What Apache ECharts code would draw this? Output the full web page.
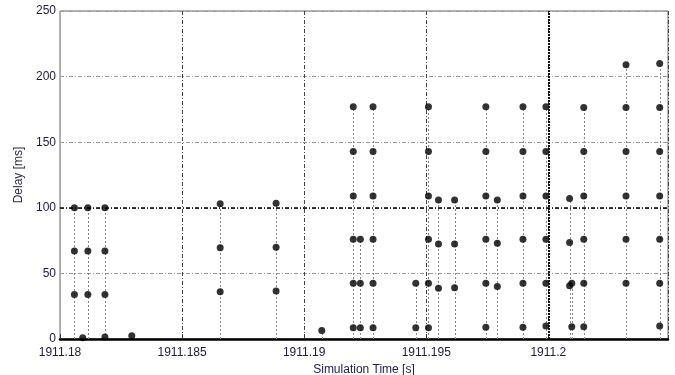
<!DOCTYPE html>
<html>
<head>
<meta charset="utf-8">
<script src="https://cdn.jsdelivr.net/npm/echarts@6/dist/echarts.min.js"></script>
<style>
html,body{margin:0;padding:0;background:#fff;}
#main{width:675px;height:375px;}
</style>
</head>
<body>
<div id="main"></div>
<script>
// simulation time of each packet burst [s]
var burstTimes = [
	1911.18059, 1911.18093, 1911.18114, 1911.18184, 1911.18294,
	1911.18656, 1911.18885, 1911.19072,
	1911.19201, 1911.19230, 1911.19282, 1911.19457, 1911.19509, 1911.19550, 1911.19616,
	1911.19744, 1911.19791, 1911.19896, 1911.19990,
	1911.20087, 1911.20096, 1911.20145, 1911.20318, 1911.20456
];
// delays measured in each burst [ms]
var burstDelays = [
	[100, 67, 34],
	[1],
	[100, 67, 34],
	[100, 67, 34, 1.5],
	[2.5],
	[103, 69.5, 36],
	[103.5, 70, 36.5],
	[6.5],
	[177, 143, 109, 76, 42.5, 8.6],
	[76, 42.5, 8.6],
	[177, 143, 109, 76, 42.5, 8.6],
	[42.5, 8.6],
	[177, 143, 109, 76, 42.5, 8.6],
	[106, 72.5, 38.6],
	[106, 72.5, 39],
	[177, 143, 109, 76, 42.5, 9],
	[106, 73, 40],
	[177, 143, 109, 76, 42.5, 9],
	[177, 143, 109, 76, 42.5, 10],
	[107, 73.5, 40.5],
	[42.5, 9.4],
	[176.5, 143, 109, 76, 42.5, 9.4],
	[209, 176.5, 143, 109, 76, 42.5],
	[210, 176.5, 143, 109, 76, 42.5, 10]
];
var xMin = 1911.18, xMax = 1911.2049, xStep = 0.005;
var yMin = 0, yMax = 250, yStep = 50;

var points = [];
var stems = [];
for (var i = 0; i < burstTimes.length; ++i) {
	var peak = 0;
	for (var j = 0; j < burstDelays[i].length; ++j) {
		points.push([burstTimes[i], burstDelays[i][j]]);
		if (burstDelays[i][j] > peak) peak = burstDelays[i][j];
	}
	// drop line from the axis up to the highest delay of the burst
	if (peak > 5) stems.push([burstTimes[i], peak]);
}

var labelColor = '#1c1c3c';
var myChart = echarts.init(document.getElementById('main'));
var option = {
	animation: false,
	grid: {
		left: 60, right: 7, top: 11, bottom: 36,
		outerBoundsMode: 'none',
		show: true, borderColor: '#6a6a6a', borderWidth: 1
	},
	xAxis: {
		type: 'value',
		min: xMin, max: xMax, interval: xStep,
		name: 'Simulation Time [s]',
		nameLocation: 'middle',
		nameGap: 23,
		nameTextStyle: {color: '#1c1c50', fontFamily: 'Liberation Sans', fontSize: 12},
		axisLine: {lineStyle: {color: '#000', width: 2.5}},
		axisTick: {inside: true, length: 5, lineStyle: {color: '#333'}},
		axisLabel: {
			color: labelColor, fontFamily: 'Liberation Sans', fontSize: 12, margin: 8,
			showMaxLabel: false,
			formatter: function (v) { return String(+v.toFixed(3)); }
		},
		splitLine: {lineStyle: {color: '#444', type: [4, 2, 1, 2], width: 1}}
	},
	yAxis: {
		type: 'value',
		min: yMin, max: yMax, interval: yStep,
		name: 'Delay [ms]',
		nameLocation: 'middle',
		nameGap: 33,
		nameTextStyle: {color: '#2b2b4b', fontFamily: 'Liberation Sans', fontSize: 12},
		axisLine: {lineStyle: {color: '#aaa', width: 1}},
		axisTick: {show: false},
		axisLabel: {color: labelColor, fontFamily: 'Liberation Sans', fontSize: 12, margin: 4},
		splitLine: {lineStyle: {color: '#999', type: [4, 2, 1, 2], width: 1}}
	},
	series: [
		{
			type: 'custom',
			z: 2,
			data: stems,
			renderItem: function (params, api) {
				var a = api.coord([api.value(0), 0]);
				var b = api.coord([api.value(0), api.value(1)]);
				var x = Math.round(a[0]) + 0.5;
				return {
					type: 'line',
					shape: {x1: x, y1: a[1], x2: x, y2: b[1]},
					style: {stroke: '#888', lineWidth: 1, lineDash: [2, 2]}
				};
			},
			markLine: {
				silent: true,
				symbol: 'none',
				label: {show: false},
				data: [
					{yAxis: 100, lineStyle: {color: '#000', width: 1.5, type: [4, 2, 1, 2]}},
					{xAxis: 1911.2, lineStyle: {color: '#111', width: 2, type: [2, 1]}}
				]
			}
		},
		{
			type: 'scatter',
			symbol: 'circle',
			symbolSize: 7,
			z: 3,
			itemStyle: {color: '#000'},
			data: points
		}
	]
};
myChart.setOption(option);
</script>
</body>
</html>
